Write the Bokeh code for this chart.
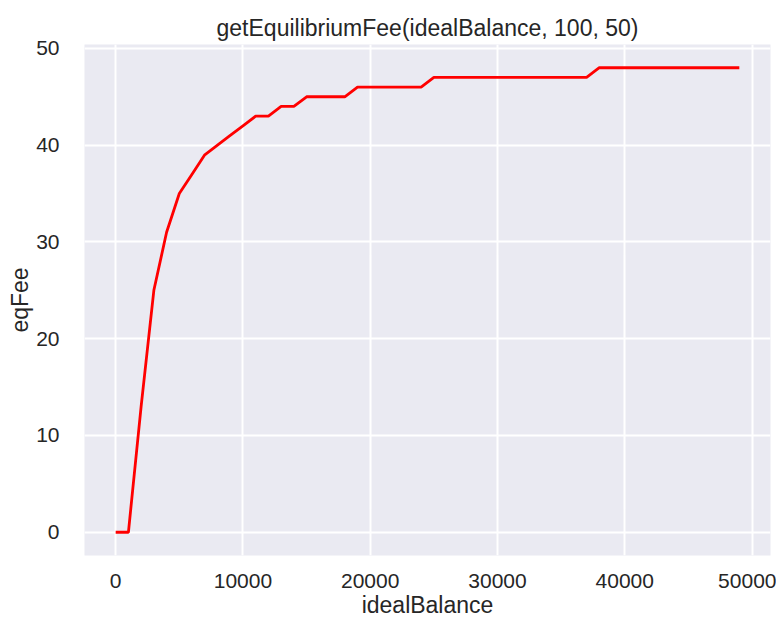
from bokeh.plotting import figure
from bokeh.models import Range1d, FixedTicker, ColumnDataSource
from bokeh.embed import file_html
from bokeh.resources import INLINE

ideal_balance = [0, 1000, 2000, 3000, 4000, 5000, 6000, 7000, 8000, 9000,
                 10000, 11000, 12000, 13000, 14000, 15000, 16000, 17000, 18000, 19000,
                 20000, 21000, 22000, 23000, 24000, 25000, 26000, 27000, 28000, 29000,
                 30000, 31000, 32000, 33000, 34000, 35000, 36000, 37000, 38000, 39000,
                 40000, 41000, 42000, 43000, 44000, 45000, 46000, 47000, 48000, 49000]
eq_fee = [0, 0, 13, 25, 31, 35, 37, 39, 40, 41,
          42, 43, 43, 44, 44, 45, 45, 45, 45, 46,
          46, 46, 46, 46, 46, 47, 47, 47, 47, 47,
          47, 47, 47, 47, 47, 47, 47, 47, 48, 48,
          48, 48, 48, 48, 48, 48, 48, 48, 48, 48]
x_ticks = [0, 10000, 20000, 30000, 40000, 50000]
y_ticks = [0, 10, 20, 30, 40, 50]

src = ColumnDataSource(dict(x=ideal_balance, y=eq_fee))

FONT = "Liberation Sans"
TXT = "#262626"

p = figure(width=776, height=621, output_backend="svg", toolbar_location=None,
           x_range=Range1d(-2450, 51450), y_range=Range1d(-2.4, 50.4),
           title="getEquilibriumFee(idealBalance, 100, 50)",
           min_border_left=84, min_border_right=6, min_border_top=44, min_border_bottom=66)

p.background_fill_color = "#EAEAF2"
p.border_fill_color = "white"
p.outline_line_color = None

p.title.text_font = FONT
p.title.text_font_size = "23px"
p.title.text_font_style = "normal"
p.title.text_color = TXT
p.title.align = "center"
p.title.offset = 0
p.title.standoff = 8

p.line("x", "y", source=src, line_color="#FF0000", line_width=2.8)

for ax in (p.xaxis[0], p.yaxis[0]):
    ax.axis_line_color = None
    ax.major_tick_line_color = None
    ax.minor_tick_line_color = None
    ax.major_label_text_font = FONT
    ax.major_label_text_font_size = "21px"
    ax.major_label_text_color = TXT
    ax.axis_label_text_font = FONT
    ax.axis_label_text_font_size = "23px"
    ax.axis_label_text_font_style = "normal"
    ax.axis_label_text_color = TXT

p.xaxis[0].ticker = FixedTicker(ticks=x_ticks)
p.yaxis[0].ticker = FixedTicker(ticks=y_ticks)
p.xaxis[0].axis_label = "idealBalance"
p.yaxis[0].axis_label = "eqFee"
p.xaxis[0].major_label_standoff = 12
p.yaxis[0].major_label_standoff = 19
p.xaxis[0].axis_label_standoff = 1
p.yaxis[0].axis_label_standoff = 0

p.xgrid.ticker = FixedTicker(ticks=x_ticks)
p.ygrid.ticker = FixedTicker(ticks=y_ticks)
p.xgrid.grid_line_color = "white"
p.ygrid.grid_line_color = "white"
p.xgrid.grid_line_width = 2
p.ygrid.grid_line_width = 2

open("out.html", "w").write(file_html(p, INLINE))
